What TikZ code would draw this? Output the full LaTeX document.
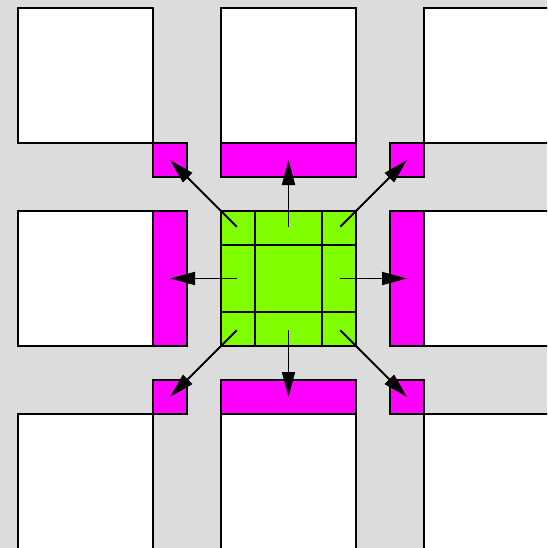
\documentclass[tikz,border=0pt]{standalone}
\usetikzlibrary{arrows.meta}
\definecolor{bg}{HTML}{DCDCDC}
\definecolor{mag}{HTML}{FF00FF}
\definecolor{lime}{HTML}{80FF00}
\begin{document}
\begin{tikzpicture}[x=1pt,y=-1pt,
  box/.style={draw=black,line width=1.8pt,inner sep=0pt,outer sep=0pt,rectangle},
  whitebox/.style={box,fill=white,minimum width=135pt,minimum height=135pt},
  sqm/.style={box,fill=mag,minimum width=34pt,minimum height=34pt},
  hbar/.style={box,fill=mag,minimum width=135pt,minimum height=34pt},
  vbar/.style={box,fill=mag,minimum width=34pt,minimum height=135pt},
  greenbox/.style={box,fill=lime,minimum width=135pt,minimum height=135pt},
  grid/.style={line width=1.8pt},
  arr/.style={draw=black,line width=1.8pt,-{Triangle[length=25pt,width=13pt]}}]
\useasboundingbox (0,0) rectangle (547,548);
\clip (0,0) rectangle (547,548);
\fill[bg] (0,0) rectangle (547,548);
% white squares
\node[whitebox] (w11) at (85.5,75.5) {};
\node[whitebox] (w12) at (288.5,75.5) {};
\node[whitebox] (w13) at (491.5,75.5) {};
\node[whitebox] (w21) at (85.5,278.5) {};
\node[whitebox] (w23) at (491.5,278.5) {};
\node[whitebox] (w31) at (85.5,481.5) {};
\node[whitebox] (w32) at (288.5,481.5) {};
\node[whitebox] (w33) at (491.5,481.5) {};
% magenta targets
\node[sqm] (mtl) at (170,160) {};
\node[hbar] (mt) at (288.5,160) {};
\node[sqm] (mtr) at (407,160) {};
\node[vbar] (ml) at (170,278.5) {};
\node[vbar] (mr) at (407,278.5) {};
\node[sqm] (mbl) at (170,397) {};
\node[hbar] (mb) at (288.5,397) {};
\node[sqm] (mbr) at (407,397) {};
% green centre
\node[greenbox] (g) at (288.5,278.5) {};
\draw[grid] (g.north west) ++(33.75,0) -- ++(0,135);
\draw[grid] (g.north east) ++(-33.75,0) -- ++(0,135);
\draw[grid] (g.north west) ++(0,33.75) -- ++(135,0);
\draw[grid] (g.south west) ++(0,-33.75) -- ++(135,0);
% arrow starts
\coordinate (stl) at (236.75,226.75);
\coordinate (st) at (288.5,226.75);
\coordinate (str) at (340.25,226.75);
\coordinate (sl) at (236.75,278.5);
\coordinate (sr) at (340.25,278.5);
\coordinate (sbl) at (236.75,330.25);
\coordinate (sb) at (288.5,330.25);
\coordinate (sbr) at (340.25,330.25);
\draw[arr] (stl) -- (mtl.center);
\draw[arr] (st) -- (mt.center);
\draw[arr] (str) -- (mtr.center);
\draw[arr] (sl) -- (ml.center);
\draw[arr] (sr) -- (mr.center);
\draw[arr] (sbl) -- (mbl.center);
\draw[arr] (sb) -- (mb.center);
\draw[arr] (sbr) -- (mbr.center);
\end{tikzpicture}
\end{document}
